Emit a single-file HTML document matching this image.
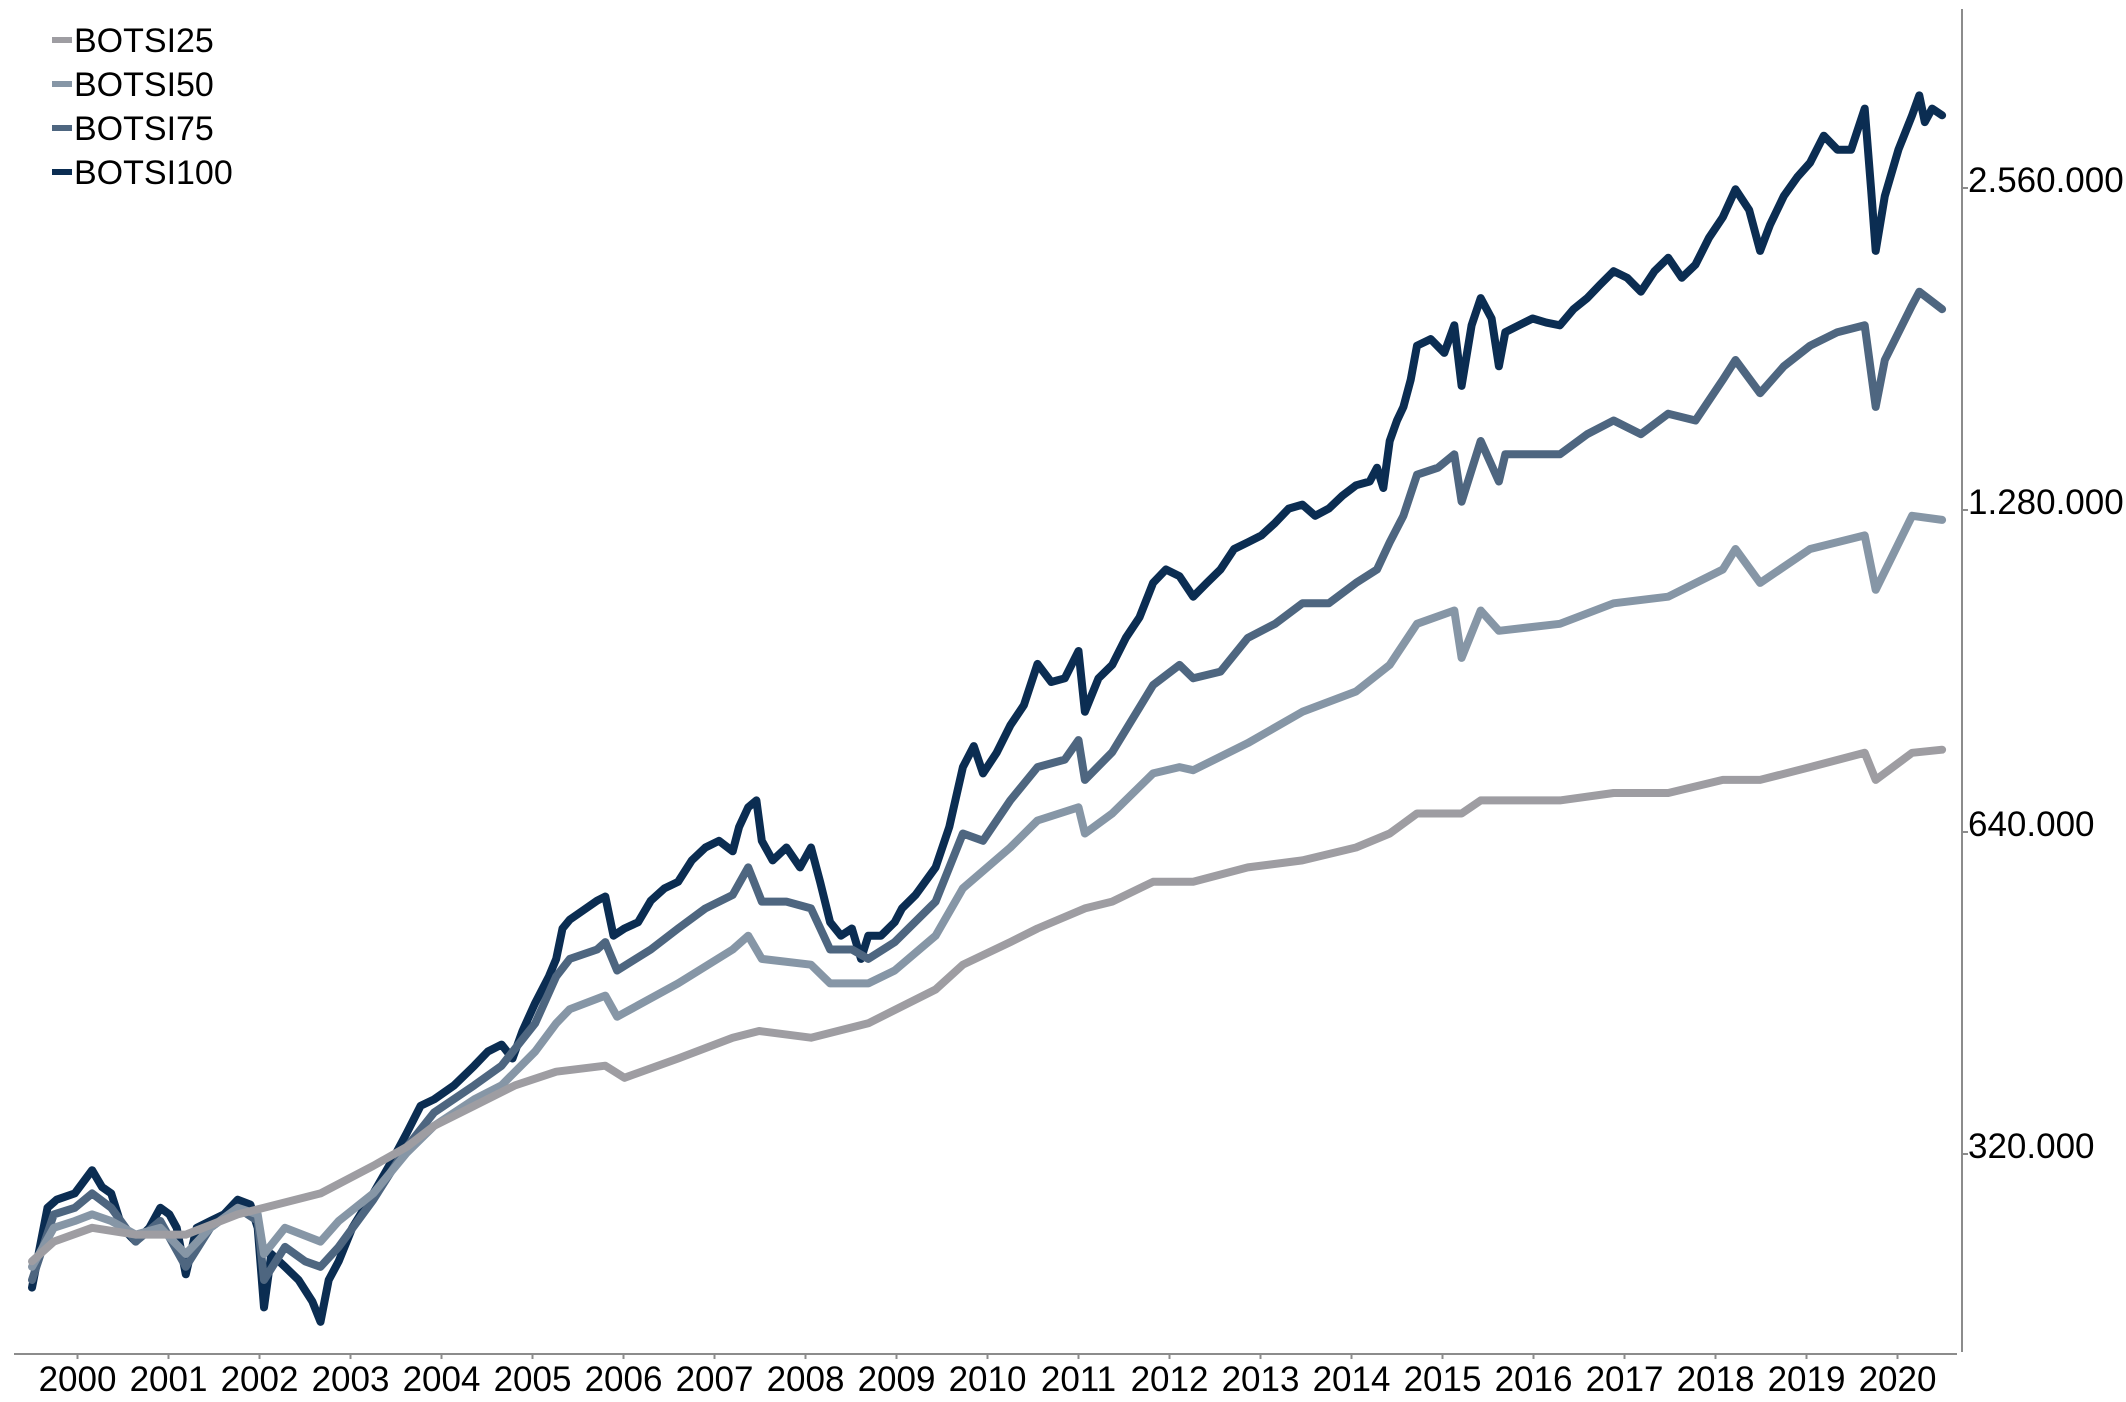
<!DOCTYPE html>
<html><head><meta charset="utf-8"><style>
html,body{margin:0;padding:0;background:#fff;}
svg{display:block;font-family:"Liberation Sans",Arial,sans-serif;}
</style></head><body>
<svg id="chart" width="2126" height="1402" viewBox="0 0 2126 1402" xmlns="http://www.w3.org/2000/svg">
<g id="series-layer"></g>
<g id="axes">
<line x1="14" y1="1354" x2="1957" y2="1354" stroke="#8c8c8c" stroke-width="2"/>
<line x1="1962" y1="9" x2="1962" y2="1352" stroke="#8c8c8c" stroke-width="2"/>
</g>
<g id="x-ticks"></g>
<g id="y-ticks"></g>
<g id="legend"></g>
</svg>
<script>
const years = [2000,2001,2002,2003,2004,2005,2006,2007,2008,2009,2010,2011,2012,2013,2014,2015,2016,2017,2018,2019,2020];
const yTickValues = [320000,640000,1280000,2560000];
const yTickLabels = ["320.000","640.000","1.280.000","2.560.000"];
const seriesNames = ["BOTSI100","BOTSI75","BOTSI50","BOTSI25"];
const seriesColors = ["#0b2d52","#4e6680","#8696a6","#9e9da2"];

const t100 = [2000.00,2000.17,2000.27,2000.47,2000.66,2000.77,2000.87,2000.99,2001.14,2001.29,2001.41,2001.51,2001.59,2001.69,2001.81,2001.96,2002.11,2002.26,2002.40,2002.48,2002.55,2002.63,2002.78,2002.93,2003.08,2003.17,2003.26,2003.37,2003.52,2003.75,2003.97,2004.12,2004.27,2004.42,2004.64,2004.86,2005.01,2005.16,2005.28,2005.39,2005.53,2005.68,2005.76,2005.83,2005.91,2006.06,2006.21,2006.30,2006.39,2006.51,2006.66,2006.80,2006.95,2007.10,2007.25,2007.40,2007.55,2007.70,2007.77,2007.87,2007.96,2008.02,2008.14,2008.29,2008.44,2008.56,2008.66,2008.77,2008.89,2009.01,2009.11,2009.19,2009.33,2009.48,2009.56,2009.71,2009.93,2010.08,2010.23,2010.35,2010.45,2010.60,2010.75,2010.90,2011.05,2011.20,2011.35,2011.50,2011.57,2011.72,2011.87,2012.02,2012.17,2012.32,2012.46,2012.61,2012.76,2012.91,2013.06,2013.21,2013.36,2013.51,2013.66,2013.81,2013.96,2014.10,2014.25,2014.40,2014.55,2014.70,2014.78,2014.85,2014.92,2015.00,2015.07,2015.15,2015.22,2015.37,2015.52,2015.63,2015.71,2015.82,2015.92,2016.04,2016.12,2016.19,2016.34,2016.49,2016.64,2016.79,2016.94,2017.09,2017.23,2017.38,2017.53,2017.68,2017.83,2017.98,2018.13,2018.28,2018.43,2018.58,2018.72,2018.87,2018.99,2019.10,2019.25,2019.40,2019.54,2019.69,2019.84,2019.99,2020.14,2020.21,2020.26,2020.36,2020.51,2020.66,2020.74,2020.80,2020.88,2020.99];
const v100 = [240,285,290,294,309,298,294,273,265,273,285,281,273,247,273,277,281,290,287,273,230,258,251,244,233,223,244,254,273,294,317,335,355,360,371,387,399,405,393,417,443,469,487,520,530,541,552,557,512,520,527,552,567,575,602,619,628,614,647,675,685,628,602,619,593,619,575,527,512,520,487,512,512,527,543,559,593,647,736,770,726,759,805,841,919,884,891,945,829,891,917,972,1016,1094,1126,1110,1062,1094,1126,1177,1194,1212,1245,1284,1295,1264,1284,1320,1350,1361,1402,1342,1485,1552,1598,1694,1823,1849,1795,1905,1672,1905,2020,1933,1744,1877,1905,1933,1916,1905,1972,2020,2078,2140,2110,2048,2140,2203,2110,2171,2301,2404,2553,2441,2236,2366,2516,2622,2703,2865,2780,2780,3037,2553,2236,2516,2780,2994,3125,2950,3037,2994];

const t75 = [2000.00,2000.24,2000.47,2000.66,2000.87,2001.14,2001.41,2001.69,2001.96,2002.26,2002.48,2002.55,2002.78,2003.00,2003.17,2003.37,2003.75,2004.12,2004.42,2004.86,2005.16,2005.53,2005.76,2005.91,2006.21,2006.30,2006.43,2006.80,2007.10,2007.40,2007.70,2007.87,2008.02,2008.29,2008.56,2008.77,2009.01,2009.19,2009.48,2009.93,2010.23,2010.45,2010.75,2011.05,2011.35,2011.50,2011.57,2011.87,2012.32,2012.61,2012.76,2013.06,2013.36,2013.66,2013.96,2014.25,2014.55,2014.78,2014.92,2015.07,2015.22,2015.45,2015.63,2015.71,2015.92,2016.12,2016.19,2016.49,2016.79,2017.09,2017.38,2017.68,2017.98,2018.28,2018.58,2018.72,2018.99,2019.25,2019.54,2019.84,2020.14,2020.26,2020.36,2020.66,2020.74,2020.99];
const v75 = [244,281,285,294,285,265,277,251,273,285,277,244,262,254,251,262,290,325,350,371,387,424,469,487,497,505,475,497,520,543,559,593,551,551,543,497,497,487,505,551,638,628,685,736,748,780,716,760,878,917,891,904,972,1002,1047,1047,1094,1126,1194,1264,1381,1402,1443,1303,1485,1361,1443,1443,1443,1507,1552,1507,1575,1552,1694,1768,1646,1744,1823,1877,1905,1598,1768,1989,2048,1972];

const t50 = [2000.00,2000.24,2000.47,2000.66,2000.87,2001.14,2001.41,2001.69,2001.96,2002.26,2002.48,2002.55,2002.78,2003.17,2003.37,2003.75,2004.12,2004.42,2004.86,2005.16,2005.53,2005.76,2005.91,2006.30,2006.43,2007.10,2007.70,2007.87,2008.02,2008.56,2008.77,2009.19,2009.48,2009.93,2010.23,2010.75,2011.05,2011.50,2011.57,2011.87,2012.32,2012.61,2012.76,2013.36,2013.96,2014.55,2014.92,2015.22,2015.63,2015.71,2015.92,2016.12,2016.79,2017.38,2017.98,2018.58,2018.72,2018.99,2019.54,2020.14,2020.26,2020.66,2020.99];
const v50 = [251,273,277,281,277,269,273,258,273,285,281,258,273,265,277,294,321,340,360,371,399,424,437,450,430,462,497,512,487,481,462,462,475,512,567,619,656,675,638,666,726,736,731,775,829,866,917,1002,1031,931,1031,987,1002,1047,1062,1126,1177,1094,1177,1212,1078,1264,1253];

const t25 = [2000.00,2000.24,2000.66,2001.14,2001.69,2002.26,2002.55,2003.17,2003.75,2004.12,2004.42,2004.86,2005.31,2005.76,2006.30,2006.51,2007.10,2007.70,2007.99,2008.56,2009.19,2009.93,2010.23,2010.75,2011.05,2011.57,2011.87,2012.32,2012.76,2013.36,2013.96,2014.55,2014.92,2015.22,2015.71,2015.92,2016.79,2017.38,2017.98,2018.58,2018.99,2019.54,2020.14,2020.26,2020.66,2020.99];
const v25 = [254,265,273,269,269,281,285,294,312,325,340,355,371,382,387,377,393,411,417,411,424,456,481,505,520,543,551,575,575,593,602,619,638,666,666,685,685,696,696,716,716,736,759,716,759,764];

const allT = [t100,t75,t50,t25];
const allV = [v100,v75,v50,v25];

const NS = "http://www.w3.org/2000/svg";
function xScale(t){ return 32 + 91*(t-2000); }
function yScale(v){ return 188 + 322*Math.log2(2560/v); }

const layer = document.getElementById('series-layer');
for (let s=0;s<4;s++){
  const pts = allT[s].map((t,i)=> xScale(t).toFixed(1)+","+yScale(allV[s][i]).toFixed(1)).join(" ");
  const pl = document.createElementNS(NS,'polyline');
  pl.setAttribute('points',pts);
  pl.setAttribute('fill','none');
  pl.setAttribute('stroke',seriesColors[s]);
  pl.setAttribute('stroke-width','8');
  pl.setAttribute('stroke-linejoin','round');
  pl.setAttribute('stroke-linecap','round');
  
  
  layer.appendChild(pl);
}

const xt = document.getElementById('x-ticks');
years.forEach(y=>{
  const cx = xScale(y+0.5);
  const tk = document.createElementNS(NS,'line');
  tk.setAttribute('x1',cx); tk.setAttribute('x2',cx);
  tk.setAttribute('y1',1354); tk.setAttribute('y2',1359);
  tk.setAttribute('stroke','#8c8c8c'); tk.setAttribute('stroke-width','2');
  
  
  xt.appendChild(tk);
  const tx = document.createElementNS(NS,'text');
  tx.setAttribute('x',cx); tx.setAttribute('y',1391);
  tx.setAttribute('text-anchor','middle');
  tx.setAttribute('font-size','35');
  tx.setAttribute('fill','#000');
  tx.textContent = String(y);
  
  
  xt.appendChild(tx);
});

const yt = document.getElementById('y-ticks');
yTickValues.forEach((v,i)=>{
  const cy = yScale(v/1000);
  const tk = document.createElementNS(NS,'line');
  tk.setAttribute('x1',1962); tk.setAttribute('x2',1968);
  tk.setAttribute('y1',cy); tk.setAttribute('y2',cy);
  tk.setAttribute('stroke','#8c8c8c'); tk.setAttribute('stroke-width','2');
  
  
  yt.appendChild(tk);
  const tx = document.createElementNS(NS,'text');
  tx.setAttribute('x',1968); tx.setAttribute('y',cy+4);
  tx.setAttribute('font-size','35');
  tx.setAttribute('fill','#000');
  tx.textContent = yTickLabels[i];
  
  
  yt.appendChild(tx);
});

const lg = document.getElementById('legend');
const legendOrder = [3,2,1,0];
legendOrder.forEach((s,i)=>{
  const cy = 40 + 44*i;
  const g = document.createElementNS(NS,'g');
  
  
  const sw = document.createElementNS(NS,'line');
  sw.setAttribute('x1',52); sw.setAttribute('x2',72);
  sw.setAttribute('y1',cy); sw.setAttribute('y2',cy);
  sw.setAttribute('stroke',seriesColors[s]); sw.setAttribute('stroke-width','6');
  
  
  g.appendChild(sw);
  const tx = document.createElementNS(NS,'text');
  tx.setAttribute('x',74); tx.setAttribute('y',cy+12);
  tx.setAttribute('font-size','34');
  tx.setAttribute('fill','#000');
  tx.textContent = seriesNames[s];
  
  
  g.appendChild(tx);
  lg.appendChild(g);
});
</script>
</body></html>
